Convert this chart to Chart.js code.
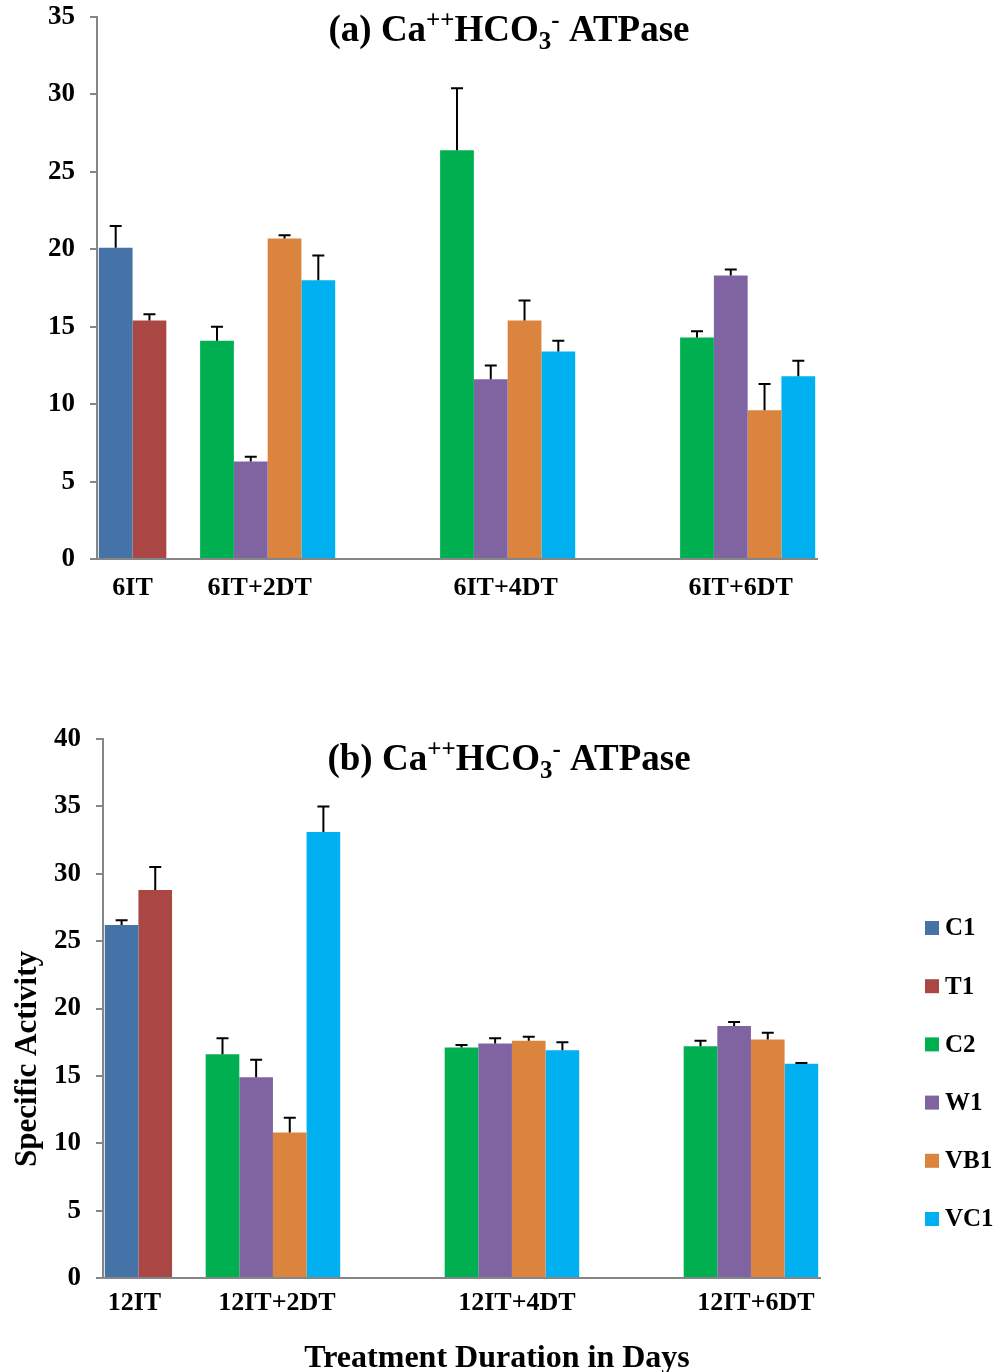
<!DOCTYPE html>
<html>
<head>
<meta charset="utf-8">
<script src="https://cdn.jsdelivr.net/npm/chart.js@4.4.0/dist/chart.umd.min.js"></script>
<style>
  body { margin: 0; background: #fff; }
  #wrap { position: relative; width: 1000px; height: 1372px; }
  #chartA { position: absolute; left: 0; top: 0; }
  #chartB { position: absolute; left: 0; top: 680px; }
</style>
</head>
<body>
<div id="wrap">
  <canvas id="chartA" width="1000" height="640"></canvas>
  <canvas id="chartB" width="1000" height="692"></canvas>
</div>
<script>
// series, the '' one is an empty spacer slot between the first two groups
const seriesNames = ['C1', 'T1', '', 'C2', 'W1', 'VB1', 'VC1']
const seriesColors = ['#4572A7', '#AA4643', '#ffffff', '#00B050', '#8064A2', '#DB843D', '#00B0F0']

// three bar slots on the x axis, four labelled groups sit on them
const slots = ['s1', 's2', 's3']
const groupLabelsA = ['6IT', '6IT+2DT', '6IT+4DT', '6IT+6DT']
const groupLabelsB = ['12IT', '12IT+2DT', '12IT+4DT', '12IT+6DT']
const groupSlot = [0, 0, 1, 2]
const groupSeries = [[0, 1], [3, 4, 5, 6], [3, 4, 5, 6], [3, 4, 5, 6]]

const ticksA = [0, 5, 10, 15, 20, 25, 30, 35]
const ticksB = [0, 5, 10, 15, 20, 25, 30, 35, 40]

// (a) values and error (SD) per series
const c1A = [20.1, null, null]
const t1A = [15.4, null, null]
const spacerA = [null, null, null]
const c2A = [14.1, 26.4, 14.3]
const w1A = [6.3, 11.6, 18.3]
const vb1A = [20.7, 15.4, 9.6]
const vc1A = [18.0, 13.4, 11.8]

const c1AErr = [1.4, null, null]
const t1AErr = [0.4, null, null]
const c2AErr = [0.9, 4.0, 0.4]
const w1AErr = [0.3, 0.9, 0.4]
const vb1AErr = [0.2, 1.3, 1.7]
const vc1AErr = [1.6, 0.7, 1.0]

// (b)
const c1B = [26.2, null, null]
const t1B = [28.8, null, null]
const spacerB = [null, null, null]
const c2B = [16.6, 17.1, 17.2]
const w1B = [14.9, 17.4, 18.7]
const vb1B = [10.8, 17.6, 17.7]
const vc1B = [33.1, 16.9, 15.9]

const c1BErr = [0.35, null, null]
const t1BErr = [1.7, null, null]
const c2BErr = [1.2, 0.2, 0.4]
const w1BErr = [1.3, 0.4, 0.3]
const vb1BErr = [1.1, 0.3, 0.5]
const vc1BErr = [1.9, 0.6, 0.05]

const FONT = '"Liberation Serif", "Times New Roman", serif'
const AXIS_GREY = '#868686'

Chart.defaults.font.family = FONT
Chart.defaults.color = '#000'

function buildDatasets(values, errors) {
  return values.map(function (v, i) {
    return {
      label: seriesNames[i],
      data: v,
      errors: errors[i],
      backgroundColor: seriesColors[i],
      borderWidth: 0,
      categoryPercentage: 0.985,
      barPercentage: 1.0
    }
  })
}

// title with super/subscripts
function drawTitle(ctx, parts, cx, baseline) {
  const big = 'bold 37px ' + FONT
  const small = 'bold 25px ' + FONT
  let total = 0
  parts.forEach(function (p) {
    ctx.font = p[1] == 'n' ? big : small
    total += ctx.measureText(p[0]).width
  })
  let x = cx - total / 2
  ctx.textAlign = 'left'
  ctx.textBaseline = 'alphabetic'
  parts.forEach(function (p) {
    ctx.font = p[1] == 'n' ? big : small
    let y = baseline
    if (p[1] == 'sup') y = baseline - 13
    if (p[1] == 'sub') y = baseline + 8
    ctx.fillText(p[0], x, y)
    x += ctx.measureText(p[0]).width
  })
}

const errorBars = {
  id: 'errorBars',
  afterDatasetsDraw(chart) {
    const ctx = chart.ctx
    const yScale = chart.scales.y
    ctx.save()
    ctx.strokeStyle = '#000'
    ctx.lineWidth = 2
    chart.data.datasets.forEach(function (ds, i) {
      if (!ds.errors) return
      chart.getDatasetMeta(i).data.forEach(function (bar, j) {
        const v = ds.data[j]
        const e = ds.errors[j]
        if (v == null || e == null) return
        const top = yScale.getPixelForValue(v + e)
        ctx.beginPath()
        ctx.moveTo(bar.x, bar.y)
        ctx.lineTo(bar.x, top)
        ctx.moveTo(bar.x - 6, top)
        ctx.lineTo(bar.x + 6, top)
        ctx.stroke()
      })
    })
    ctx.restore()
  }
}

const decor = {
  id: 'decor',
  afterDraw(chart, args, opts) {
    const ctx = chart.ctx
    const area = chart.chartArea
    ctx.save()
    ctx.fillStyle = '#000'

    drawTitle(ctx, opts.title, opts.titleX, opts.titleY)

    // group labels under the bars (nudged a bit like the original)
    ctx.font = 'bold 26px ' + FONT
    ctx.textAlign = 'center'
    ctx.textBaseline = 'middle'
    opts.groups.forEach(function (label, g) {
      let sum = 0
      let n = 0
      groupSeries[g].forEach(function (s) {
        const bar = chart.getDatasetMeta(s).data[groupSlot[g]]
        sum += bar.x
        n++
      })
      ctx.fillText(label, sum / n + opts.groupNudge[g], area.bottom + opts.groupDy)
    })

    if (opts.legend) {
      ctx.font = 'bold 25px ' + FONT
      ctx.textAlign = 'left'
      let y = area.top + 189
      chart.data.datasets.forEach(function (ds) {
        if (!ds.label) return
        ctx.fillStyle = ds.backgroundColor
        ctx.fillRect(925, y - 7, 14, 14)
        ctx.fillStyle = '#000'
        ctx.fillText(ds.label, 945, y + 1)
        y += 58.2
      })
    }

    if (opts.axisTitles) {
      ctx.font = 'bold 32px ' + FONT
      ctx.textAlign = 'center'
      ctx.textBaseline = 'alphabetic'
      ctx.fillText('Treatment Duration in Days', 497, area.bottom + 89)
      ctx.font = 'bold 31px ' + FONT
      ctx.save()
      ctx.translate(36, area.bottom - 219)
      ctx.rotate(-Math.PI / 2)
      ctx.fillText('Specific Activity', 0, 0)
      ctx.restore()
    }
    ctx.restore()
  }
}

function makeChart(el, datasets, tickValues, yWidth, xHeight, padding, decorOpts) {
  return new Chart(el, {
    type: 'bar',
    data: { labels: slots, datasets: datasets },
    plugins: [errorBars, decor],
    options: {
      responsive: false,
      animation: false,
      layout: { padding: padding },
      plugins: {
        legend: { display: false },
        tooltip: { enabled: false },
        decor: decorOpts
      },
      scales: {
        x: {
          ticks: { display: false },
          grid: { display: false },
          border: { display: true, color: AXIS_GREY, width: 2 },
          afterFit: function (scale) { scale.height = xHeight }
        },
        y: {
          min: 0,
          max: tickValues[tickValues.length - 1],
          afterBuildTicks: function (scale) {
            scale.ticks = tickValues.map(function (v) { return { value: v } })
          },
          ticks: {
            padding: 15,
            font: { size: 27, weight: 'bold' },
            color: '#000'
          },
          grid: {
            display: true,
            drawOnChartArea: false,
            drawTicks: true,
            tickLength: 7,
            color: AXIS_GREY,
            lineWidth: 2
          },
          border: { display: true, color: AXIS_GREY, width: 2 },
          afterFit: function (scale) {
            scale.width = yWidth
            // let layout.padding alone decide where the plot starts
            scale.paddingTop = 0
            scale.paddingBottom = 0
          }
        }
      }
    }
  })
}

makeChart(
  document.getElementById('chartA'),
  buildDatasets([c1A, t1A, spacerA, c2A, w1A, vb1A, vc1A],
    [c1AErr, t1AErr, null, c2AErr, w1AErr, vb1AErr, vc1AErr]),
  ticksA, 97, 81, { top: 17, right: 183, bottom: 0, left: 0 },
  {
    title: [['(a) Ca', 'n'], ['++', 'sup'], ['HCO', 'n'], ['3', 'sub'], ['-', 'sup'], [' ATPase', 'n']],
    titleX: 509, titleY: 41,
    groups: groupLabelsA, groupDy: 29, groupNudge: [0, -8, -2, -7],
    legend: false, axisTitles: false
  }
)

makeChart(
  document.getElementById('chartB'),
  buildDatasets([c1B, t1B, spacerB, c2B, w1B, vb1B, vc1B],
    [c1BErr, t1BErr, null, c2BErr, w1BErr, vb1BErr, vc1BErr]),
  ticksB, 103, 94, { top: 59, right: 180, bottom: 0, left: 0 },
  {
    title: [['(b) Ca', 'n'], ['++', 'sup'], ['HCO', 'n'], ['3', 'sub'], ['-', 'sup'], [' ATPase', 'n']],
    titleX: 509, titleY: 90,
    groups: groupLabelsB, groupDy: 25, groupNudge: [-4, 4, 5, 5],
    legend: true, axisTitles: true
  }
)
</script>
</body>
</html>
